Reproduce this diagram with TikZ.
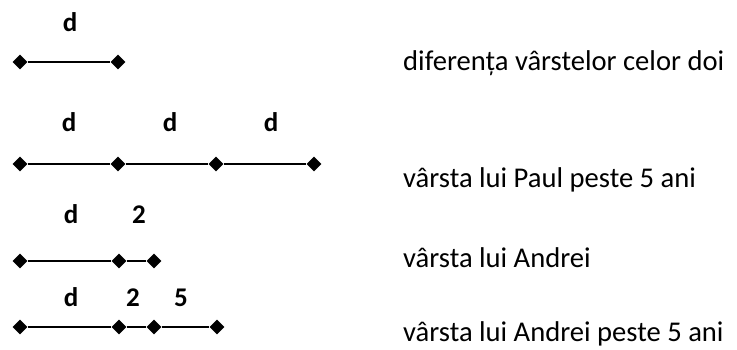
\documentclass[tikz,border=0pt]{standalone}
\usepackage{fontspec}
\setmainfont{Carlito}
\usetikzlibrary{shapes.geometric}
\begin{document}
\begin{tikzpicture}[x=1pt,y=-1pt,
  dot/.style={diamond,fill=black,draw=none,inner sep=0pt,minimum width=15pt,minimum height=15pt},
  seg/.style={line width=1.6pt},
  lab/.style={font=\fontsize{27}{32}\selectfont\bfseries,inner sep=0pt,anchor=base},
  txt/.style={font=\fontsize{28.6}{34}\selectfont,anchor=base west,inner sep=0pt}]
\useasboundingbox (0,0) rectangle (737,350);
% line 1
\node[dot] (a1) at (20,62) {};
\node[dot] (a2) at (118,62) {};
\draw[seg] (a1) -- (a2);
\node[lab] (la) at (70,32) {d};
% line 2
\node[dot] (b1) at (20,164) {};
\node[dot] (b2) at (118,164) {};
\node[dot] (b3) at (216,164) {};
\node[dot] (b4) at (314,164) {};
\draw[seg] (b1) -- (b2) -- (b3) -- (b4);
\node[lab] (lb1) at (69,132) {d};
\node[lab] (lb2) at (170,132) {d};
\node[lab] (lb3) at (271,132) {d};
% line 3
\node[dot] (c1) at (20,261) {};
\node[dot] (c2) at (119,261) {};
\node[dot] (c3) at (154,261) {};
\draw[seg] (c1) -- (c2) -- (c3);
\node[lab] (lc1) at (71,223) {d};
\node[lab] (lc2) at (139,223) {2};
% line 4
\node[dot] (d1) at (20,327) {};
\node[dot] (d2) at (119,327) {};
\node[dot] (d3) at (154,327) {};
\node[dot] (d4) at (217,327) {};
\draw[seg] (d1) -- (d2) -- (d3) -- (d4);
\node[lab] (ld1) at (71,306) {d};
\node[lab] (ld2) at (133,306) {2};
\node[lab] (ld3) at (181,306) {5};
% texts
\node[txt] (t1) at (403,71) {diferența vârstelor celor doi};
\node[txt] (t2) at (403,188) {vârsta lui Paul peste 5 ani};
\node[txt] (t3) at (403,267) {vârsta lui Andrei};
\node[txt] (t4) at (403,341) {vârsta lui Andrei peste 5 ani};
\end{tikzpicture}
\end{document}
